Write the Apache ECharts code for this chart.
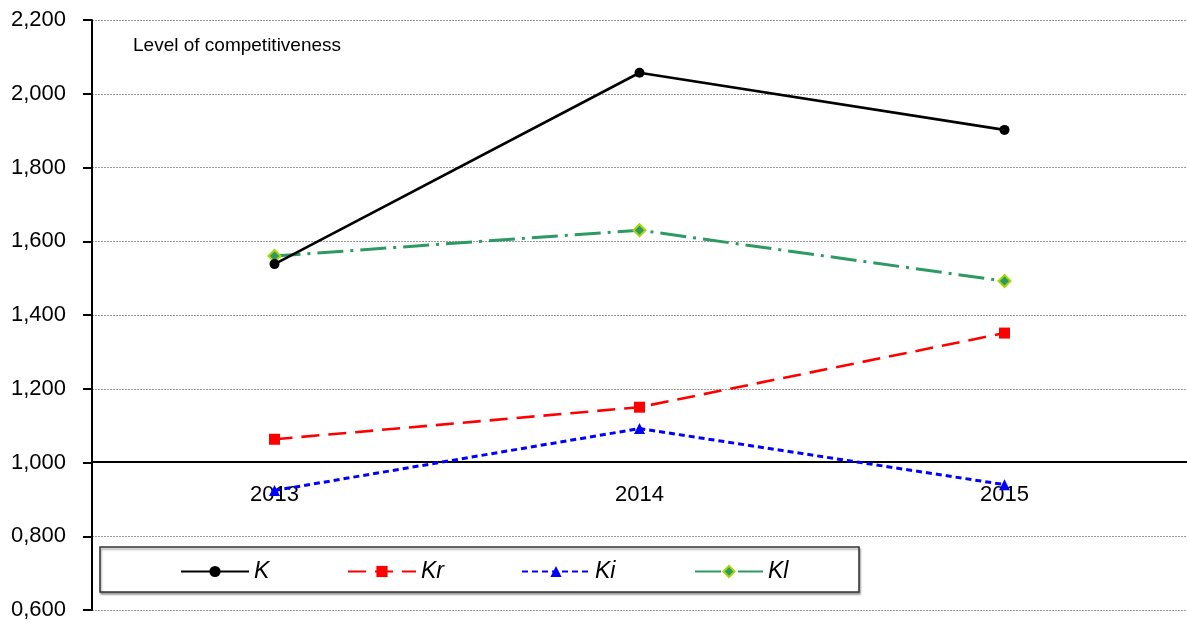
<!DOCTYPE html>
<html>
<head>
<meta charset="utf-8">
<script src="https://cdn.jsdelivr.net/npm/echarts@6/dist/echarts.min.js"></script>
<style>
  html, body { margin: 0; padding: 0; background: #fff; }
  #chart { width: 1187px; height: 624px; }
</style>
</head>
<body>
<div id="chart"></div>
<script>
// Competitiveness indices by year
const years = ['2013', '2014', '2015'];
const seriesNames = ['K', 'Kr', 'Ki', 'Kl'];
const valuesK  = [1.538, 2.057, 1.902];
const valuesKr = [1.063, 1.150, 1.351];
const valuesKi = [0.924, 1.092, 0.940];
const valuesKl = [1.560, 1.630, 1.492];
const yTicks = { min: 0.6, max: 2.2, step: 0.2 };
const titleText = 'Level of competitiveness';

const FONT = '"Liberation Sans", Arial, sans-serif';

const chart = echarts.init(document.getElementById('chart'), null, { renderer: 'canvas' });

const fmt = v => v.toFixed(3).replace('.', ',');

// one legend entry per slot so the entries sit at an even spacing
const legendLefts = [180, 347, 521, 694];
const legends = seriesNames.map((name, i) => ({
  left: legendLefts[i], top: 560, z: 5, padding: 0,
  itemWidth: 68, itemHeight: 14, itemGap: 0,
  data: [name],
  textStyle: { fontFamily: FONT, fontSize: 23, fontStyle: 'italic', color: '#000' }
}));

chart.setOption({
  animation: false,
  backgroundColor: '#ffffff',
  textStyle: { fontFamily: FONT },
  grid: { left: 92, right: -5, top: 20, bottom: 14, containLabel: false },
  graphic: [
    {
      type: 'text', left: 133, top: 36,
      style: { text: titleText, font: '19px ' + FONT, fill: '#000' }
    },
    {
      type: 'rect', z: 1,
      shape: { x: 100, y: 547, width: 759, height: 45 },
      style: {
        fill: '#fff', stroke: '#333', lineWidth: 1.5,
        shadowColor: 'rgba(0,0,0,0.35)', shadowOffsetX: 1, shadowOffsetY: 2, shadowBlur: 2
      }
    }
  ],
  legend: legends,
  xAxis: [
    {
      type: 'category', data: years, position: 'bottom', offset: -148,
      boundaryGap: true,
      axisLine: { lineStyle: { color: '#000', width: 2 } },
      axisTick: { alignWithLabel: true, length: 8, lineStyle: { color: '#000', width: 2 } },
      axisLabel: { color: '#000', fontSize: 22, fontFamily: FONT, margin: 22 },
      splitLine: { show: false }
    },
    {
      type: 'category', data: years, position: 'bottom', offset: -148,
      boundaryGap: true,
      axisLine: { show: false },
      axisTick: { alignWithLabel: true, inside: true, length: 8, lineStyle: { color: '#000', width: 2 } },
      axisLabel: { show: false },
      splitLine: { show: false }
    }
  ],
  yAxis: {
    type: 'value', min: yTicks.min, max: yTicks.max, interval: yTicks.step,
    axisLine: { show: true, lineStyle: { color: '#000', width: 2 } },
    axisTick: { show: true, length: 9, lineStyle: { color: '#000', width: 2 } },
    axisLabel: { color: '#000', fontSize: 22, fontFamily: FONT, margin: 26, formatter: fmt },
    splitLine: { show: true, lineStyle: { color: '#9a9a9a', width: 1, type: [2, 1] } }
  },
  series: [
    {
      name: 'K', type: 'line', data: valuesK, z: 6,
      symbol: 'circle', symbolSize: 10,
      lineStyle: { color: '#000', width: 2.6, type: 'solid' },
      itemStyle: { color: '#000' }
    },
    {
      name: 'Kr', type: 'line', data: valuesKr, z: 4,
      symbol: 'rect', symbolSize: 11,
      lineStyle: { color: '#ff0000', width: 2.6, type: [18, 9] },
      itemStyle: { color: '#ff0000' }
    },
    {
      name: 'Ki', type: 'line', data: valuesKi, z: 4,
      symbol: 'triangle', symbolSize: 11,
      lineStyle: { color: '#0000ff', width: 3, type: [6, 4] },
      itemStyle: { color: '#0000ff' }
    },
    {
      name: 'Kl', type: 'line', data: valuesKl, z: 5,
      symbol: 'diamond', symbolSize: 12,
      lineStyle: { color: '#2e9a63', width: 3, type: [26, 7, 3, 7] },
      itemStyle: { color: '#2e9a63', borderColor: '#a6d608', borderWidth: 2 }
    }
  ]
});
</script>
</body>
</html>
